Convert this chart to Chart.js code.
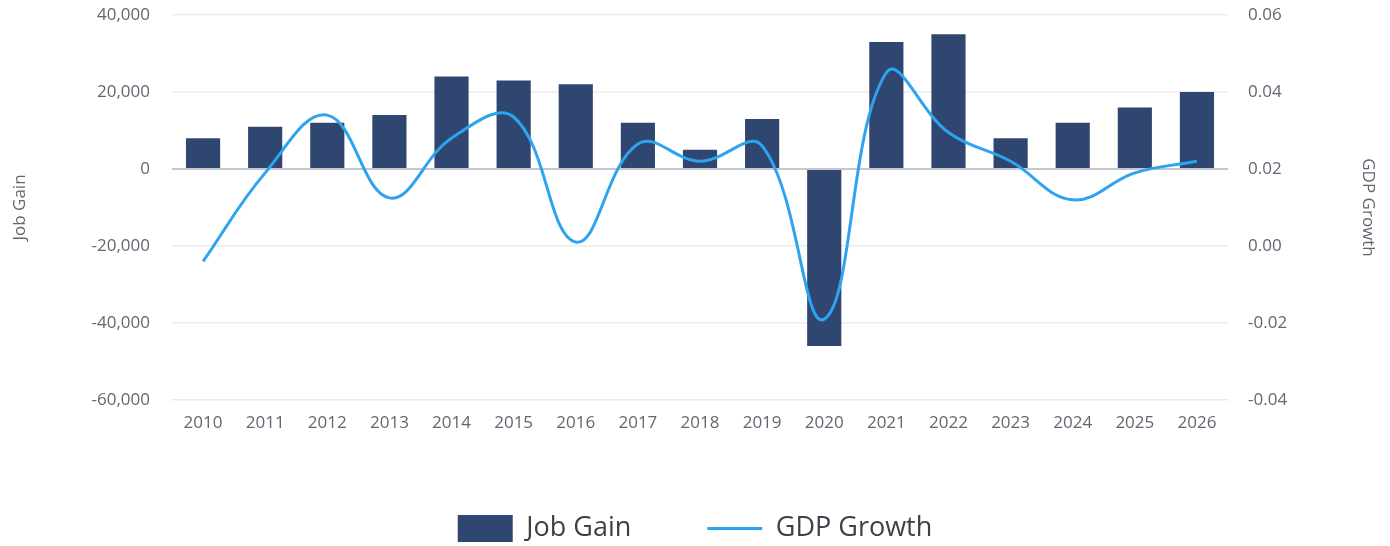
<!DOCTYPE html>
<html>
<head>
<meta charset="utf-8">
<script src="https://cdn.jsdelivr.net/npm/chart.js@4"></script>
<style>
  html, body { margin: 0; padding: 0; background: #fff; }
  #wrap { width: 1390px; height: 546px; }
</style>
</head>
<body>
<div id="wrap"><canvas id="chart"></canvas></div>
<script>
// --- Data ---
const years = ["2010", "2011", "2012", "2013", "2014", "2015", "2016", "2017", "2018",
               "2019", "2020", "2021", "2022", "2023", "2024", "2025", "2026"];
const jobGain = [8000, 11000, 12000, 14000, 24000, 23000, 22000, 12000, 5000,
                 13000, -46000, 33000, 35000, 8000, 12000, 16000, 20000];
const gdpGrowth = [-0.004, 0.019, 0.034, 0.0125, 0.028, 0.0335, 0.001, 0.0265, 0.022,
                   0.026, -0.019, 0.045, 0.0295, 0.022, 0.012, 0.019, 0.022];

const FONT = "'Open Sans', Lato, sans-serif";
const TICK_COLOR = "#62666f";
const LEGEND_PAD = 76;

// Keep the legend items far apart without the legend eating the chart height
const legendFit = {
    id: "legendFit",
    beforeInit(chart) {
        const fit = chart.legend.fit;
        chart.legend.fit = function () {
            fit.call(this);
            this.height = 27 + LEGEND_PAD + 4;
        };
    }
};

// y axes: fixed width, and don't let tick padding push the plot down
const fixAxis = width => scale => {
    scale.width = width;
    scale.paddingTop = 15;
    scale.paddingBottom = 15;
};

new Chart(document.getElementById("chart"), {
    type: "bar",
    data: {
        labels: years,
        datasets: [
            {
                type: "line",
                label: "GDP Growth",
                data: gdpGrowth,
                yAxisID: "y2",
                borderColor: "#2ea3ee",
                backgroundColor: "#2ea3ee",
                borderWidth: 3,
                tension: 0.4,
                pointRadius: 0,
                pointStyle: "line",
                order: 0
            },
            {
                label: "Job Gain",
                data: jobGain,
                yAxisID: "y",
                backgroundColor: "#2f4770",
                borderWidth: 0,
                categoryPercentage: 1,
                barPercentage: 0.55,
                pointStyle: "rect",
                order: 1
            }
        ]
    },
    options: {
        responsive: true,
        maintainAspectRatio: false,
        animation: false,
        plugins: {
            tooltip: { enabled: false },
            legend: {
                position: "bottom",
                reverse: true,
                labels: {
                    usePointStyle: true,
                    pointStyleWidth: 55,
                    boxWidth: 55,
                    boxHeight: 28,
                    padding: LEGEND_PAD,
                    color: "#3d4048",
                    font: { family: FONT, size: 27 }
                }
            }
        },
        scales: {
            x: {
                grid: { display: false },
                border: { display: false },
                ticks: { color: TICK_COLOR, padding: 5, font: { family: FONT, size: 17 } },
                afterFit(scale) { scale.height = 546 - 400 - (27 + LEGEND_PAD + 4); }
            },
            y: {
                position: "left",
                min: -60000,
                max: 40000,
                border: { display: false },
                grid: {
                    drawTicks: false,
                    color: ctx => ctx.tick && ctx.tick.value === 0 ? "#c4c7d0" : "#ebebeb",
                    lineWidth: ctx => ctx.tick && ctx.tick.value === 0 ? 2 : 1.5
                },
                ticks: {
                    stepSize: 20000,
                    padding: 22,
                    color: TICK_COLOR,
                    font: { family: FONT, size: 17 }
                },
                title: {
                    display: true,
                    text: "Job Gain",
                    color: TICK_COLOR,
                    padding: { top: 10, bottom: 4 },
                    font: { family: FONT, size: 17 }
                },
                afterFit: fixAxis(172)
            },
            y2: {
                position: "right",
                min: -0.04,
                max: 0.06,
                border: { display: false },
                grid: { display: false, drawTicks: false },
                ticks: {
                    stepSize: 0.02,
                    padding: 20,
                    color: TICK_COLOR,
                    font: { family: FONT, size: 17 },
                    callback: v => v.toFixed(2)
                },
                title: {
                    display: true,
                    text: "GDP Growth",
                    color: TICK_COLOR,
                    padding: { top: 12, bottom: 4 },
                    font: { family: FONT, size: 17 }
                },
                afterFit: fixAxis(162)
            }
        }
    },
    plugins: [legendFit]
});
</script>
</body>
</html>
